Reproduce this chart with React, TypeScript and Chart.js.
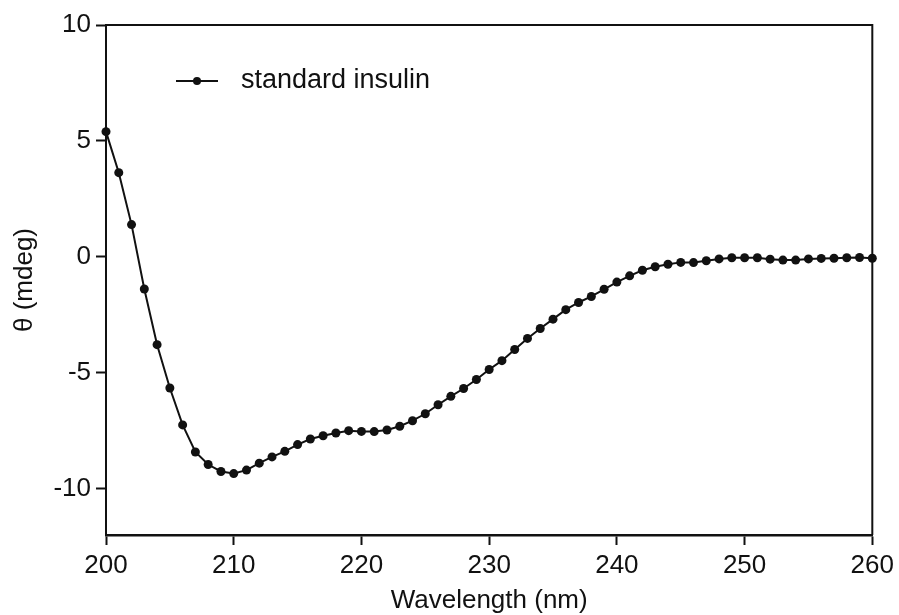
import React, { useEffect, useRef } from "react";
import { Chart, registerables } from "chart.js";

Chart.register(...registerables);

const wavelengths = [
  200, 201, 202, 203, 204, 205, 206, 207, 208, 209,
  210, 211, 212, 213, 214, 215, 216, 217, 218, 219,
  220, 221, 222, 223, 224, 225, 226, 227, 228, 229,
  230, 231, 232, 233, 234, 235, 236, 237, 238, 239,
  240, 241, 242, 243, 244, 245, 246, 247, 248, 249,
  250, 251, 252, 253, 254, 255, 256, 257, 258, 259, 260,
];

const standardInsulin = [
  5.4, 3.63, 1.39, -1.39, -3.79, -5.66, -7.25, -8.42, -8.96, -9.26,
  -9.35, -9.2, -8.9, -8.63, -8.39, -8.1, -7.86, -7.72, -7.6, -7.5,
  -7.53, -7.54, -7.47, -7.31, -7.07, -6.77, -6.38, -6.02, -5.68, -5.29,
  -4.86, -4.48, -4.0, -3.52, -3.09, -2.69, -2.28, -1.97, -1.71, -1.4,
  -1.09, -0.82, -0.58, -0.43, -0.32, -0.24, -0.25, -0.17, -0.09, -0.04,
  -0.04, -0.04, -0.1, -0.14, -0.14, -0.09, -0.07, -0.06, -0.04, -0.03, -0.06,
];

const xTicks = [200, 210, 220, 230, 240, 250, 260];
const yTicks = [-10, -5, 0, 5, 10];
const seriesLabel = "standard insulin";
const xTitle = "Wavelength (nm)";
const yTitle = "\u03b8 (mdeg)";

const FONT = "'Liberation Sans', Arial, sans-serif";
const INK = "#111111";

export default function App() {
  const canvasRef = useRef<HTMLCanvasElement | null>(null);

  useEffect(() => {
    document.body.style.margin = "0";
    const canvas = canvasRef.current;
    if (!canvas) return;

    const frameAndLegend = {
      id: "frameAndLegend",
      afterDatasetsDraw(chart: any) {
        const { ctx, chartArea } = chart;
        ctx.save();
        ctx.strokeStyle = INK;
        ctx.lineWidth = 2;
        ctx.beginPath();
        ctx.moveTo(chartArea.left, chartArea.top);
        ctx.lineTo(chartArea.right, chartArea.top);
        ctx.lineTo(chartArea.right, chartArea.bottom);
        ctx.stroke();

        // legend
        const lx1 = chartArea.left + 70;
        const lx2 = chartArea.left + 112;
        const ly = chartArea.top + 56;
        ctx.lineWidth = 2;
        ctx.beginPath();
        ctx.moveTo(lx1, ly);
        ctx.lineTo(lx2, ly);
        ctx.stroke();
        ctx.fillStyle = INK;
        ctx.beginPath();
        ctx.arc((lx1 + lx2) / 2, ly, 4, 0, Math.PI * 2);
        ctx.fill();
        ctx.font = `27px ${FONT}`;
        ctx.textBaseline = "middle";
        ctx.textAlign = "left";
        ctx.fillText(seriesLabel, lx2 + 23, ly);
        ctx.restore();
      },
    };

    const chart = new Chart(canvas, {
      type: "line",
      data: {
        datasets: [
          {
            label: seriesLabel,
            data: wavelengths.map((w, i) => ({ x: w, y: standardInsulin[i] })),
            borderColor: INK,
            backgroundColor: INK,
            borderWidth: 2,
            pointRadius: 4.5,
            pointHoverRadius: 4.5,
            pointBackgroundColor: INK,
            pointBorderWidth: 0,
            tension: 0,
            clip: false as any,
          },
        ],
      },
      options: {
        animation: false,
        responsive: true,
        maintainAspectRatio: false,
        layout: { padding: { top: 25, right: 25, left: 0, bottom: 0 } },
        plugins: {
          legend: { display: false },
          tooltip: { enabled: false },
        },
        scales: {
          x: {
            type: "linear",
            min: 200,
            max: 260,
            afterBuildTicks: (scale: any) => {
              scale.ticks = xTicks.map((v) => ({ value: v }));
            },
            afterFit: (scale: any) => {
              scale.height = 80;
            },
            grid: {
              display: true,
              drawOnChartArea: false,
              drawTicks: true,
              tickLength: 10,
              tickColor: INK,
              tickWidth: 2,
            },
            border: { display: true, color: INK, width: 2.5 },
            ticks: {
              color: INK,
              font: { family: FONT, size: 26 },
              padding: 5,
              maxRotation: 0,
              autoSkip: false,
            },
            title: {
              display: true,
              text: xTitle,
              color: INK,
              font: { family: FONT, size: 26 },
              padding: { top: 0, bottom: -1 },
            },
          },
          y: {
            type: "linear",
            min: -12,
            max: 10,
            afterBuildTicks: (scale: any) => {
              scale.ticks = yTicks.map((v) => ({ value: v }));
            },
            afterFit: (scale: any) => {
              scale.width = 106;
            },
            grid: {
              display: true,
              drawOnChartArea: false,
              drawTicks: true,
              tickLength: 10,
              tickColor: INK,
              tickWidth: 2,
            },
            border: { display: true, color: INK, width: 2 },
            ticks: {
              color: INK,
              font: { family: FONT, size: 26 },
              padding: 5,
            },
            title: {
              display: true,
              text: yTitle,
              color: INK,
              font: { family: FONT, size: 26 },
              padding: { top: 9, bottom: 0 },
            },
          },
        },
      },
      plugins: [frameAndLegend],
    });

    return () => chart.destroy();
  }, []);

  return (
    <div style={{ position: "relative", width: 899, height: 615, background: "#fff" }}>
      <canvas ref={canvasRef} />
    </div>
  );
}
